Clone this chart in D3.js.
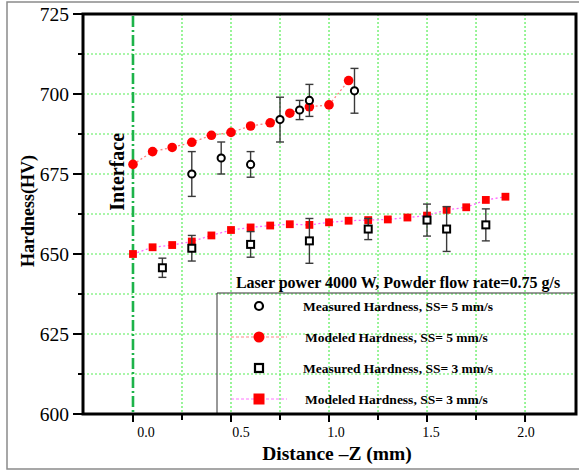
<!DOCTYPE html>
<html>
<head>
<meta charset="utf-8">
<script src="https://cdn.jsdelivr.net/npm/d3@7"></script>
<style>
  html, body { margin: 0; padding: 0; background: #fff; }
  svg { display: block; font-family: "Liberation Serif", "Times New Roman", serif; }
</style>
</head>
<body>
<svg id="chart" width="579" height="471"></svg>
<script>
// Modeled hardness, scan speed 5 mm/s
const modeled5X = [0, 0.1, 0.2, 0.3, 0.4, 0.5, 0.6, 0.7, 0.8, 0.9, 1.0, 1.1];
const modeled5Y = [678, 682, 683.3, 684.9, 687.1, 688, 690, 691, 694, 696, 696.6, 704.2];

// Measured hardness, scan speed 5 mm/s (with error half-widths)
const measured5X = [0.3, 0.45, 0.6, 0.75, 0.85, 0.9, 1.13];
const measured5Y = [675, 680, 678, 692, 695, 698, 701];
const measured5Err = [7, 5, 4, 7, 3, 5, 7];

// Modeled hardness, scan speed 3 mm/s
const modeled3X = [0, 0.1, 0.2, 0.3, 0.4, 0.5, 0.6, 0.7, 0.8, 0.9, 1.0, 1.1, 1.2, 1.3, 1.4, 1.5, 1.6, 1.7, 1.8, 1.9];
const modeled3Y = [650, 652.1, 652.8, 653.9, 655.8, 657.5, 658.3, 658.9, 659.3, 659.1, 659.9, 660.4, 660.6, 660.8, 661.4, 662, 663.8, 664.6, 666.9, 667.9];

// Measured hardness, scan speed 3 mm/s (with error half-widths)
const measured3X = [0.15, 0.3, 0.6, 0.9, 1.2, 1.5, 1.6, 1.8];
const measured3Y = [645.7, 651.8, 653, 654.1, 657.8, 660.6, 657.8, 659.1];
const measured3Err = [3, 4, 4, 7, 3.3, 5, 7, 5];

// Axis ticks
const yMajorTicks = [600, 625, 650, 675, 700, 725];
const yMinorTicks = [612.5, 637.5, 662.5, 687.5, 712.5];
const xMajorTicks = [0, 0.5, 1.0, 1.5, 2.0];
const xMinorTicks = [0.25, 0.75, 1.25, 1.75];
const xTickLabels = ["0.0", "0.5", "1.0", "1.5", "2.0"];
const yGridValues = [612.5, 625, 637.5, 650, 662.5, 675, 687.5, 700, 712.5];
const xGridValues = [0.25, 0.5, 0.75, 1.0, 1.25, 1.5, 1.75, 2.0];

const legendTitle = "Laser power 4000 W, Powder flow rate=0.75 g/s";
const legendLabels = [
  "Measured Hardness, SS= 5 mm/s",
  "Modeled Hardness, SS= 5 mm/s",
  "Measured Hardness, SS= 3 mm/s",
  "Modeled Hardness, SS= 3 mm/s"
];

const svg = d3.select("#chart");
const plot = { left: 83, top: 14, right: 576, bottom: 414 };

const x = d3.scaleLinear().domain([-0.255, 2.26]).range([plot.left, plot.right]);
const y = d3.scaleLinear().domain([600, 725]).range([plot.bottom, plot.top]);
// tick labels sit on their own slightly compressed scale
const xLabel = d3.scaleLinear().domain([0, 2]).range([x(0) + 13, x(2) + 1]);

// outer frame
svg.append("rect")
  .attr("x", 7).attr("y", 2).attr("width", 590).attr("height", 467)
  .attr("fill", "none").attr("stroke", "#8a8a8a").attr("stroke-width", 1.5);

// grid
const grid = svg.append("g").attr("stroke", "#55ee55").attr("stroke-width", 1.2)
  .attr("stroke-dasharray", "2,2").attr("fill", "none");
grid.selectAll("line.h").data(yGridValues).join("line")
  .attr("x1", plot.left).attr("x2", plot.right)
  .attr("y1", d => y(d)).attr("y2", d => y(d));
grid.selectAll("line.v").data(xGridValues).join("line")
  .attr("y1", plot.top).attr("y2", plot.bottom)
  .attr("x1", d => x(d)).attr("x2", d => x(d));

// interface line
svg.append("line")
  .attr("x1", x(0)).attr("x2", x(0)).attr("y1", plot.top + 2).attr("y2", plot.bottom)
  .attr("stroke", "#1db34a").attr("stroke-width", 2.6)
  .attr("stroke-dasharray", "11,3,2,3");

svg.append("text")
  .attr("transform", `translate(${x(0) - 9},${y(676) + 1}) rotate(-90)`)
  .attr("text-anchor", "middle")
  .attr("font-weight", "bold").attr("font-size", 20)
  .text("Interface");

// legend box (left and top edges, transparent)
const lg = svg.append("g");
lg.append("path")
  .attr("d", `M217,${plot.bottom} V293 H${plot.right}`)
  .attr("fill", "none").attr("stroke", "#333").attr("stroke-width", 1);
lg.append("text")
  .attr("x", 398).attr("y", 288).attr("text-anchor", "middle")
  .attr("font-weight", "bold").attr("font-size", 16)
  .text(legendTitle);

const rowY = [306, 337, 368, 399];
// row 1: open circle
lg.append("circle").attr("cx", 259).attr("cy", rowY[0]).attr("r", 4)
  .attr("fill", "#fff").attr("stroke", "#000").attr("stroke-width", 2.2);
// row 2: dotted red line + filled circle
lg.append("line").attr("x1", 231).attr("x2", 287).attr("y1", rowY[1]).attr("y2", rowY[1])
  .attr("stroke", "#ff8888").attr("stroke-width", 1.2).attr("stroke-dasharray", "3,2");
lg.append("circle").attr("cx", 259).attr("cy", rowY[1]).attr("r", 5.5).attr("fill", "#ff0000");
// row 3: open square
lg.append("rect").attr("x", 259 - 4).attr("y", rowY[2] - 4).attr("width", 8).attr("height", 8)
  .attr("fill", "#fff").attr("stroke", "#000").attr("stroke-width", 2.2);
// row 4: dotted magenta line + filled square
lg.append("line").attr("x1", 231).attr("x2", 287).attr("y1", rowY[3]).attr("y2", rowY[3])
  .attr("stroke", "#ff77ff").attr("stroke-width", 1.2).attr("stroke-dasharray", "3,2");
lg.append("rect").attr("x", 259 - 5.5).attr("y", rowY[3] - 5.5).attr("width", 11).attr("height", 11)
  .attr("fill", "#ff0000");

lg.selectAll("text.item").data(legendLabels).join("text")
  .attr("class", "item")
  .attr("x", (d, i) => (i % 2 === 0 ? 303 : 305))
  .attr("y", (d, i) => rowY[i] + 4.5)
  .attr("font-weight", "bold").attr("font-size", 13.5)
  .text(d => d);

// modeled curves
const line = d3.line().x(d => x(d[0])).y(d => y(d[1]));
const m5 = modeled5X.map((v, i) => [v, modeled5Y[i]]);
const m3 = modeled3X.map((v, i) => [v, modeled3Y[i]]);

svg.append("path").datum(m5).attr("d", line)
  .attr("fill", "none").attr("stroke", "#ff7f7f").attr("stroke-width", 1.3).attr("stroke-dasharray", "2,2.5");
svg.append("path").datum(m3).attr("d", line)
  .attr("fill", "none").attr("stroke", "#ff66ff").attr("stroke-width", 1.3).attr("stroke-dasharray", "2,2.5");

svg.append("g").selectAll("circle").data(m5).join("circle")
  .attr("cx", d => x(d[0])).attr("cy", d => y(d[1])).attr("r", 4.8).attr("fill", "#ff0000");
svg.append("g").selectAll("rect").data(m3).join("rect")
  .attr("x", d => x(d[0]) - 3.9).attr("y", d => y(d[1]) - 3.9)
  .attr("width", 7.8).attr("height", 7.8).attr("fill", "#ff0000");

// measured points with error bars
function errorBars(xs, ys, es) {
  const g = svg.append("g").attr("stroke", "#3a3a3a").attr("stroke-width", 1.4);
  xs.forEach((v, i) => {
    const cx = x(v), top = y(ys[i] + es[i]), bot = y(ys[i] - es[i]);
    g.append("line").attr("x1", cx).attr("x2", cx).attr("y1", top).attr("y2", bot);
    g.append("line").attr("x1", cx - 4).attr("x2", cx + 4).attr("y1", top).attr("y2", top);
    g.append("line").attr("x1", cx - 4).attr("x2", cx + 4).attr("y1", bot).attr("y2", bot);
  });
}
errorBars(measured5X, measured5Y, measured5Err);
errorBars(measured3X, measured3Y, measured3Err);

svg.append("g").selectAll("circle").data(measured5X).join("circle")
  .attr("cx", d => x(d)).attr("cy", (d, i) => y(measured5Y[i])).attr("r", 3.6)
  .attr("fill", "#fff").attr("stroke", "#000").attr("stroke-width", 2);
svg.append("g").selectAll("rect").data(measured3X).join("rect")
  .attr("x", d => x(d) - 3.5).attr("y", (d, i) => y(measured3Y[i]) - 3.5)
  .attr("width", 7).attr("height", 7)
  .attr("fill", "#fff").attr("stroke", "#000").attr("stroke-width", 2);

// frame / axes
svg.append("rect")
  .attr("x", plot.left).attr("y", plot.top)
  .attr("width", plot.right - plot.left).attr("height", plot.bottom - plot.top)
  .attr("fill", "none").attr("stroke", "#000").attr("stroke-width", 3);

const ticks = svg.append("g").attr("stroke", "#000").attr("stroke-width", 2);
ticks.selectAll("line.ym").data(yMajorTicks).join("line")
  .attr("x1", plot.left - 10).attr("x2", plot.left).attr("y1", d => y(d)).attr("y2", d => y(d));
ticks.selectAll("line.yn").data(yMinorTicks).join("line")
  .attr("x1", plot.left - 5).attr("x2", plot.left).attr("y1", d => y(d)).attr("y2", d => y(d));
ticks.selectAll("line.xm").data(xMajorTicks).join("line")
  .attr("y1", plot.bottom).attr("y2", plot.bottom + 8).attr("x1", d => x(d)).attr("x2", d => x(d));
ticks.selectAll("line.xn").data(xMinorTicks).join("line")
  .attr("y1", plot.bottom).attr("y2", plot.bottom + 6).attr("x1", d => x(d)).attr("x2", d => x(d));

svg.append("g").selectAll("text").data(yMajorTicks).join("text")
  .attr("x", 69).attr("y", d => y(d) + 6.5).attr("text-anchor", "end")
  .attr("font-size", 19.5).text(d => d);

svg.append("g").selectAll("text").data(xMajorTicks).join("text")
  .attr("x", d => xLabel(d)).attr("y", 437).attr("text-anchor", "middle")
  .attr("font-size", 14).text((d, i) => xTickLabels[i]);

// axis titles
svg.append("text")
  .attr("x", 337).attr("y", 460).attr("text-anchor", "middle")
  .attr("font-weight", "bold").attr("font-size", 19.5)
  .text("Distance \u2013Z (mm)");
svg.append("text")
  .attr("transform", "translate(34,211) rotate(-90)")
  .attr("text-anchor", "middle")
  .attr("font-weight", "bold").attr("font-size", 18)
  .text("Hardness(HV)");
</script>
</body>
</html>
